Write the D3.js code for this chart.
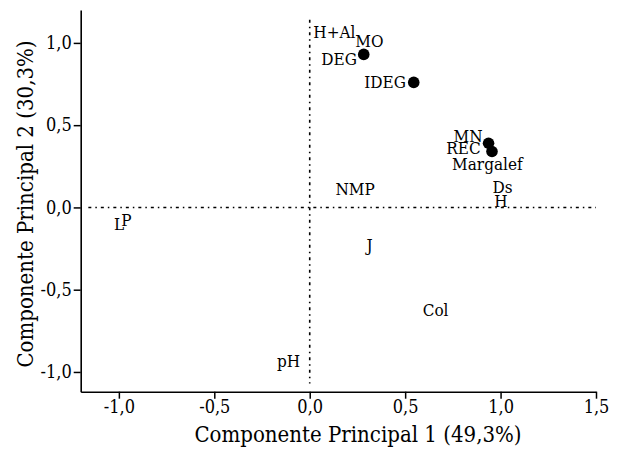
<html>
<head>
	<script src="https://d3js.org/d3.v7.min.js"></script>
	<style>
		body { margin: 0; background: #fff; }
	</style>
</head>
<body>
	<script>
		// pontos (círculos cheios)
		var pointX = [0.283, 0.545, 0.937, 0.955];
		var pointY = [0.93, 0.76, 0.39, 0.34];

		// rótulos das variáveis (posição início do texto, linha de base)
		var labelNames = ["H+Al", "MO", "DEG", "IDEG", "MN", "REC", "Margalef", "Ds", "H", "NMP", "L", "P", "J", "Col", "pH"];
		var labelX = [0.019, 0.239, 0.061, 0.286, 0.754, 0.716, 0.746, 0.958, 0.967, 0.135, -1.026, -0.987, 0.297, 0.592, -0.171];
		var labelY = [1.03, 0.976, 0.867, 0.727, 0.40, 0.325, 0.23, 0.085, 0.004, 0.073, -0.138, -0.11, -0.265, -0.659, -0.97];

		var xMajor = [-1.0, -0.5, 0.0, 0.5, 1.0, 1.5];
		var xMinor = [-0.75, -0.25, 0.25, 0.75, 1.25];
		var yMajor = [-1.0, -0.5, 0.0, 0.5, 1.0];
		var yMinor = [-0.75, -0.25, 0.25, 0.75];

		var w = 622; //largura
		var h = 449; //altura
		var serif = "'DejaVu Serif Condensed', 'DejaVu Serif', serif";

		var xScale = d3.scaleLinear().domain([-1.2, 1.5]).range([80.7, 596]);
		var yScale = d3.scaleLinear().domain([-1.12, 1.2]).range([391.7, 10]);

		var fmt = function(d){ return d3.format(".1f")(d).replace("−", "-").replace(".", ","); };

		var svg = d3.select("body").append("svg").attr("width", w).attr("height", h);

		// linhas de referência tracejadas
		svg.append("line")
			.attr("x1", xScale(-1.16)).attr("x2", xScale(1.5))
			.attr("y1", yScale(0)).attr("y2", yScale(0))
			.attr("stroke", "#000").attr("stroke-width", 1.6)
			.attr("stroke-dasharray", "3,4,1.5,4");
		svg.append("line")
			.attr("x1", xScale(0)).attr("x2", xScale(0))
			.attr("y1", yScale(1.14)).attr("y2", yScale(-1.07))
			.attr("stroke", "#000").attr("stroke-width", 1.6)
			.attr("stroke-dasharray", "3,4,1.5,4");

		// eixos
		var xAxis = d3.axisBottom(xScale).tickValues(xMajor).tickFormat(fmt).tickSize(7).tickSizeOuter(0).tickPadding(2);
		var xAxisMinor = d3.axisBottom(xScale).tickValues(xMinor).tickFormat("").tickSize(4).tickSizeOuter(0);
		var yAxis = d3.axisLeft(yScale).tickValues(yMajor).tickFormat(fmt).tickSize(7).tickSizeOuter(0).tickPadding(2);
		var yAxisMinor = d3.axisLeft(yScale).tickValues(yMinor).tickFormat("").tickSize(4).tickSizeOuter(0);

		var gx = svg.append("g").attr("transform", "translate(0," + yScale.range()[0] + ")");
		gx.call(xAxisMinor);
		gx.call(xAxis);
		var gy = svg.append("g").attr("transform", "translate(" + xScale.range()[0] + ",0)");
		gy.call(yAxisMinor);
		gy.call(yAxis);

		svg.selectAll("g").attr("font-family", serif).attr("font-size", 18);
		svg.selectAll(".domain").attr("stroke", "#000").attr("stroke-width", 1.6);
		svg.selectAll(".tick line").attr("stroke", "#000").attr("stroke-width", 1.5);
		svg.selectAll(".tick text").attr("font-size", 18).attr("fill", "#000");

		// títulos dos eixos
		svg.append("text")
			.attr("x", 358).attr("y", 442)
			.attr("text-anchor", "middle")
			.attr("font-family", serif)
			.attr("font-size", 22)
			.text("Componente Principal 1 (49,3%)");
		svg.append("text")
			.attr("transform", "translate(33,204) rotate(-90)")
			.attr("text-anchor", "middle")
			.attr("font-family", serif)
			.attr("font-size", 22)
			.text("Componente Principal 2 (30,3%)");

		// pontos
		svg.selectAll("circle")
			.data(pointX)
			.enter()
			.append("circle")
			.attr("cx", function(d){ return xScale(d); })
			.attr("cy", function(d, i){ return yScale(pointY[i]); })
			.attr("r", 5.8)
			.attr("fill", "#000");

		// rótulos
		svg.selectAll("text.lbl")
			.data(labelNames)
			.enter()
			.append("text")
			.attr("class", "lbl")
			.attr("x", function(d, i){ return xScale(labelX[i]); })
			.attr("y", function(d, i){ return yScale(labelY[i]); })
			.attr("font-family", serif)
			.attr("font-size", 17)
			.text(function(d){ return d; });
	</script>
</body>
</html>
